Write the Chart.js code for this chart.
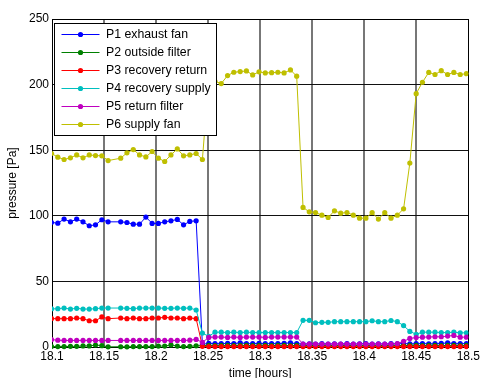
<!DOCTYPE html>
<html>
<head>
<meta charset="utf-8">
<script src="https://cdn.jsdelivr.net/npm/chart.js@4/dist/chart.umd.min.js"></script>
<style>
  html, body { margin: 0; padding: 0; background: #fff; }
  #wrap { width: 482px; height: 378px; position: relative; }
</style>
</head>
<body>
<div id="wrap"><canvas id="c" width="482" height="378"></canvas></div>
<script>
// Sample times in hours (one sample is missing around 18.160)
const times = [
  18.0996, 18.1056, 18.1116, 18.1177, 18.1237, 18.1298, 18.1358, 18.1418, 18.1479, 18.1539,
  18.1660, 18.1720, 18.1781, 18.1841, 18.1902, 18.1962, 18.2022, 18.2083, 18.2143, 18.2204,
  18.2264, 18.2324, 18.2385, 18.2445, 18.2506, 18.2566, 18.2626, 18.2687, 18.2747, 18.2808,
  18.2868, 18.2928, 18.2989, 18.3049, 18.3110, 18.3170, 18.3230, 18.3291, 18.3351, 18.3412,
  18.3472, 18.3532, 18.3593, 18.3653, 18.3714, 18.3774, 18.3834, 18.3895, 18.3955, 18.4016,
  18.4076, 18.4136, 18.4197, 18.4257, 18.4318, 18.4378, 18.4438, 18.4499, 18.4559, 18.4620,
  18.4680, 18.4740, 18.4801, 18.4861, 18.4922, 18.4982, 18.5042
];

// Pressures in Pa, one value per sample time
const p1ExhaustFan = [
  94.9, 94.4, 97.5, 95.4, 97.5, 95.4, 92.4, 93.1, 97.0, 95.4,
  95.4, 94.9, 93.6, 93.6, 99.0, 94.2, 94.2, 95.4, 96.2, 97.2,
  93.1, 95.7, 96.2, 2.0, 2.8, 2.6, 2.5, 2.7, 2.5, 3.2,
  2.6, 2.5, 2.7, 2.5, 2.6, 2.5, 2.8, 3.1, 2.5, 2.3,
  2.4, 2.3, 2.5, 2.3, 2.4, 2.3, 2.5, 2.3, 2.4, 2.6,
  2.3, 2.4, 2.3, 2.5, 2.4, 2.6, 2.4, 2.5, 2.6, 2.4,
  2.5, 2.7, 3.1, 2.6, 2.5, 2.6, 2.5
];
const p2OutsideFilter = [
  0.3, 0.3, 0.3, 0.5, 0.5, 0.8, 0.8, 1.5, 1.0, 0.1,
  0.2, 0.1, 0.3, 0.3, 0.3, 0.3, 0.7, 0.7, 1.6, 0.7,
  0.3, 0.5, 0.9, 1.1, 1.2, 1.1, 1.2, 1.2, 1.1, 1.2,
  1.2, 1.1, 1.2, 1.2, 1.1, 1.2, 1.2, 1.1, 1.2, 1.2,
  1.1, 1.2, 1.2, 1.1, 1.2, 1.2, 1.1, 1.2, 1.2, 1.1,
  1.2, 1.2, 1.1, 1.2, 1.2, 1.1, 1.2, 1.2, 1.1, 1.2,
  1.2, 1.1, 1.2, 1.2, 1.1, 1.2, 1.2
];
const p3RecoveryReturn = [
  21.6, 21.6, 21.6, 21.6, 22.1, 21.6, 20.0, 20.0, 22.9, 21.6,
  22.1, 21.6, 22.1, 21.6, 21.6, 22.1, 22.1, 22.6, 22.1, 22.1,
  21.6, 22.1, 21.6, 0.5, 0.3, 0.3, 0.3, 0.3, 0.3, 0.3,
  0.3, 0.3, 0.3, 0.3, 0.3, 0.3, 0.3, 0.3, 0.3, 0.3,
  0.3, 0.3, 0.3, 0.3, 0.3, 0.3, 0.3, 0.3, 0.3, 0.3,
  0.3, 0.3, 0.3, 0.3, 0.3, 0.3, 0.3, 0.3, 0.3, 0.3,
  0.3, 0.3, 0.3, 0.3, 0.3, 0.3, 0.3
];
const p4RecoverySupply = [
  29.0, 29.2, 29.7, 28.9, 29.5, 28.9, 28.9, 29.2, 29.7, 29.7,
  29.7, 29.5, 29.2, 29.7, 29.7, 29.7, 29.7, 29.5, 29.5, 29.7,
  29.5, 29.7, 28.2, 10.6, 8.1, 11.3, 11.3, 11.0, 11.3, 11.0,
  11.3, 11.0, 11.0, 11.0, 11.0, 11.0, 11.0, 11.0, 11.0, 20.3,
  20.3, 18.5, 18.8, 18.8, 19.3, 19.3, 19.3, 19.3, 19.3, 19.3,
  20.0, 19.3, 19.3, 20.2, 19.3, 16.3, 11.9, 9.7, 11.3, 11.3,
  11.3, 11.0, 11.0, 11.3, 10.8, 10.8, 10.8
];
const p5ReturnFilter = [
  5.6, 5.2, 5.0, 5.0, 5.0, 5.0, 5.0, 5.0, 5.0, 5.0,
  5.0, 5.0, 5.0, 5.0, 5.0, 5.0, 5.0, 5.0, 5.0, 5.0,
  5.0, 5.2, 5.8, 3.5, 7.3, 7.6, 7.6, 7.3, 7.6, 7.3,
  7.6, 7.6, 7.6, 7.3, 7.6, 7.6, 7.6, 7.6, 7.6, 2.3,
  2.2, 2.2, 2.2, 2.2, 2.2, 2.2, 2.2, 2.2, 2.2, 2.2,
  2.2, 2.2, 2.2, 2.2, 2.6, 4.3, 6.5, 7.2, 7.5, 7.6,
  7.8, 7.8, 8.3, 8.8, 7.5, 7.5, 7.5
];
const p6SupplyFan = [
  147.5, 144.7, 142.9, 144.2, 146.4, 144.2, 146.4, 145.9, 145.7, 142.1,
  143.9, 148.0, 150.5, 146.4, 144.9, 149.0, 143.9, 141.4, 146.4, 151.0,
  145.7, 146.4, 147.5, 142.9, 204.5, 202.5, 200.8, 206.9, 209.4, 209.9,
  210.4, 207.4, 209.7, 208.9, 209.1, 209.4, 208.9, 211.2, 206.4, 106.4,
  103.0, 102.5, 100.5, 98.7, 103.8, 102.0, 102.5, 100.5, 98.2, 98.2,
  102.5, 97.5, 102.5, 98.2, 100.5, 105.3, 140.2, 193.1, 201.8, 209.3,
  207.7, 210.6, 207.7, 209.3, 207.7, 208.3, 208.5
];

const seriesNames = [
  'P1 exhaust fan', 'P2 outside filter', 'P3 recovery return',
  'P4 recovery supply', 'P5 return filter', 'P6 supply fan'
];
const seriesValues = [
  p1ExhaustFan, p2OutsideFilter, p3RecoveryReturn,
  p4RecoverySupply, p5ReturnFilter, p6SupplyFan
];
const seriesColors = ['#0000ff', '#008000', '#ff0000', '#00bfbf', '#bf00bf', '#bfbf00'];

const xTickValues = [18.1, 18.15, 18.2, 18.25, 18.3, 18.35, 18.4, 18.45, 18.5];
const xTickLabels = ['18.1', '18.15', '18.2', '18.25', '18.3', '18.35', '18.4', '18.45', '18.5'];
const yTickValues = [0, 50, 100, 150, 200, 250];

const FONT = 'Liberation Sans, Arial, sans-serif';
const MARKER_R = 2.6;

const datasets = seriesValues.map((vals, s) => ({
  label: seriesNames[s],
  data: times.map((t, k) => ({ x: t, y: vals[k] })),
  borderColor: seriesColors[s],
  backgroundColor: seriesColors[s],
  pointBackgroundColor: seriesColors[s],
  pointBorderWidth: 0,
  pointRadius: MARKER_R,
  borderWidth: 1,
  tension: 0,
  order: seriesValues.length - 1 - s,   // later series painted on top
  clip: { left: 0, right: 0, top: 4, bottom: 4 }
}));

// Black frame around the plotting area
const framePlugin = {
  id: 'frame',
  beforeDatasetsDraw(chart) {
    const { ctx, chartArea: a } = chart;
    ctx.save();
    ctx.strokeStyle = '#000';
    ctx.lineWidth = 1;
    ctx.strokeRect(Math.round(a.left) + 0.5, Math.round(a.top) + 0.5,
                   Math.round(a.right - a.left), Math.round(a.bottom - a.top));
    ctx.restore();
  }
};

// Boxed legend in the upper-left corner of the plotting area
const boxLegendPlugin = {
  id: 'boxLegend',
  afterDatasetsDraw(chart) {
    const { ctx, chartArea: a } = chart;
    const left = Math.round(a.left) + 2.5;
    const top = Math.round(a.top) + 4.5;
    const w = 162, h = 112, rowH = 18.06;
    ctx.save();
    ctx.fillStyle = '#fff';
    ctx.fillRect(left, top, w, h);
    ctx.strokeStyle = '#000';
    ctx.lineWidth = 1;
    ctx.strokeRect(left, top, w, h);
    ctx.font = '12.3px ' + FONT;
    ctx.textBaseline = 'middle';
    ctx.textAlign = 'left';
    seriesNames.forEach((name, s) => {
      const y = Math.round(top + 10.5 + rowH * s) + 0.5;
      ctx.strokeStyle = seriesColors[s];
      ctx.lineWidth = 1;
      ctx.beginPath();
      ctx.moveTo(left + 7, y);
      ctx.lineTo(left + 45, y);
      ctx.stroke();
      ctx.fillStyle = seriesColors[s];
      ctx.beginPath();
      ctx.arc(left + 26, y, MARKER_R, 0, Math.PI * 2);
      ctx.fill();
      ctx.fillStyle = '#000';
      ctx.fillText(name, left + 51.5, y + 0.5);
    });
    ctx.restore();
  }
};

new Chart(document.getElementById('c'), {
  type: 'line',
  data: { datasets },
  options: {
    responsive: false,
    animation: false,
    events: [],
    layout: { padding: { left: 0, top: 19, right: 12, bottom: 0 } },
    plugins: { legend: { display: false }, tooltip: { enabled: false } },
    scales: {
      x: {
        type: 'linear',
        min: 18.1,
        max: 18.5,
        afterBuildTicks(scale) { scale.ticks = xTickValues.map(v => ({ value: v })); },
        afterFit(scale) { scale.height = 31; },
        ticks: {
          autoSkip: false,
          maxRotation: 0,
          padding: 2,
          color: '#000',
          font: { family: FONT, size: 12 },
          callback: (v, i) => xTickLabels[i]
        },
        grid: {
          drawTicks: false,
          lineWidth: 2,
          color: c => (c.index === 0 || c.index === xTickValues.length - 1) ? 'rgba(0,0,0,0)' : '#777777'
        },
        border: { display: false },
        title: {
          display: true,
          text: 'time [hours]',
          color: '#000',
          font: { family: FONT, size: 12 },
          padding: { top: 0, bottom: -3 }
        }
      },
      y: {
        min: 0,
        max: 250,
        afterBuildTicks(scale) { scale.ticks = yTickValues.map(v => ({ value: v })); },
        afterFit(scale) { scale.width = 52; },
        ticks: {
          padding: 3,
          color: '#000',
          font: { family: FONT, size: 12 }
        },
        grid: {
          drawTicks: false,
          lineWidth: 1,
          color: c => (c.index === 0 || c.index === yTickValues.length - 1) ? 'rgba(0,0,0,0)' : '#111'
        },
        border: { display: false },
        title: {
          display: true,
          text: 'pressure [Pa]',
          color: '#000',
          font: { family: FONT, size: 12 },
          padding: { top: 5, bottom: 0 }
        }
      }
    }
  },
  plugins: [framePlugin, boxLegendPlugin]
});
</script>
</body>
</html>
